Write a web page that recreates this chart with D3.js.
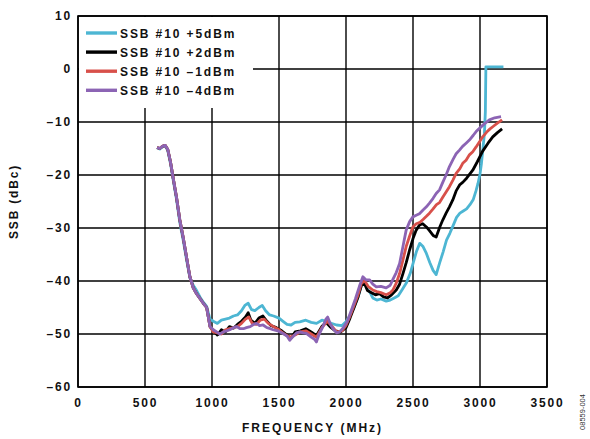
<!DOCTYPE html>
<html>
<head>
<meta charset="utf-8">
<script src="https://cdn.jsdelivr.net/npm/d3@7"></script>
<style>
  html, body { margin: 0; padding: 0; background: #fff; overflow: hidden; }
  svg { display: block; }
  text { font-family: "Liberation Sans", Arial, sans-serif; }
</style>
</head>
<body>
<svg width="590" height="439"></svg>
<script>
const svg = d3.select("svg");
const margin = {top: 16, right: 43, bottom: 52, left: 78};
const innerWidth = 590 - margin.left - margin.right;
const innerHeight = 439 - margin.top - margin.bottom;

// axis ticks
const xTicks = [0, 500, 1000, 1500, 2000, 2500, 3000, 3500];
const yTicks = [10, 0, -10, -20, -30, -40, -50, -60];

// shared steep roll-off below 1 GHz
const rolloff = [[590,-14.8],[610,-15.0],[630,-14.6],[650,-14.4],[670,-15.2],[690,-17.5],[710,-20.5],[735,-24.2],[760,-28.5],[785,-31.8],[810,-35.5],[835,-39.2],[860,-41.3],[885,-42.4],[910,-43.3],[935,-44.2],[960,-45.0],[985,-48.6]];

const ssbP5 = [[590,-14.9],[610,-15.1],[630,-14.7],[650,-14.5],[670,-15.4],[690,-17.8],[710,-20.9],[735,-24.6],[760,-29],[785,-32.3],[810,-36],[835,-39.4],[860,-40.8],[885,-41.8],[910,-43],[935,-44],[960,-44.8],[985,-47.2],[1010,-47.6],[1040,-48],[1070,-47.4],[1100,-47.2],[1130,-47],[1160,-46.6],[1190,-46.4],[1220,-45.6],[1245,-44.6],[1270,-44.2],[1295,-45.4],[1320,-45.6],[1350,-45],[1375,-44.6],[1400,-45.6],[1430,-46.4],[1460,-46.6],[1500,-47],[1530,-47.6],[1560,-48.2],[1590,-48.3],[1620,-47.8],[1655,-47.7],[1700,-47.4],[1740,-47.8],[1780,-48],[1820,-47.4],[1855,-47.6],[1890,-48],[1930,-48.3],[1970,-48.4],[2000,-47.7],[2030,-46.5],[2060,-45],[2090,-43],[2115,-40.8],[2140,-40.2],[2160,-41.5],[2180,-42.2],[2200,-43.2],[2230,-43.6],[2260,-43.4],[2300,-43.8],[2330,-43.6],[2360,-43.2],[2390,-42.8],[2420,-41.6],[2450,-40.4],[2480,-38.5],[2500,-36.7],[2525,-34.5],[2550,-32.9],[2575,-33.5],[2600,-34.8],[2625,-36.5],[2650,-38],[2673,-38.8],[2700,-36.5],[2725,-34.5],[2750,-32.3],[2775,-31],[2800,-29.5],[2825,-28],[2850,-27.2],[2875,-26.8],[2900,-26.4],[2925,-25.6],[2950,-24.6],[2970,-23],[2985,-21.6],[3000,-19.8],[3010,-18],[3020,-15.5],[3033,-12.2],[3040,-8],[3044,0.4],[3175,0.4]];

const ssbP2 = rolloff.concat([[1010,-49.4],[1040,-50.2],[1070,-49.2],[1100,-49.6],[1130,-48.6],[1160,-48.9],[1190,-48.2],[1220,-47.6],[1250,-46.8],[1270,-46],[1290,-47.4],[1320,-48],[1350,-47],[1380,-46.6],[1410,-47.6],[1440,-48.4],[1480,-48.8],[1520,-49.4],[1560,-50.2],[1590,-50.8],[1620,-49.6],[1660,-49.4],[1700,-49],[1740,-49.6],[1780,-50.3],[1820,-48.6],[1850,-47.8],[1880,-48.6],[1920,-49.4],[1960,-49.6],[2000,-48.8],[2030,-47],[2060,-45],[2090,-43],[2115,-40.8],[2140,-40.6],[2160,-41.8],[2190,-42.2],[2220,-42.6],[2250,-42.4],[2280,-43],[2310,-43.2],[2340,-42.6],[2375,-41.7],[2400,-40.6],[2425,-38.6],[2450,-36.5],[2474,-34.2],[2500,-32],[2524,-30.4],[2550,-29.4],[2573,-29.2],[2600,-29.8],[2623,-30.5],[2650,-31.4],[2673,-31.7],[2700,-29.8],[2722,-28.5],[2747,-27.2],[2772,-26],[2797,-24.7],[2822,-23],[2850,-21.8],[2871,-21.4],[2900,-20.6],[2946,-19.1],[2980,-17.5],[3020,-15.5],[3060,-14],[3095,-12.8],[3130,-12],[3165,-11.3]]);

const ssbM1 = rolloff.concat([[1010,-49.6],[1040,-49.8],[1070,-50],[1100,-49.2],[1130,-49],[1160,-48.8],[1190,-48.6],[1220,-48],[1250,-47.2],[1275,-46.8],[1300,-48],[1330,-48.2],[1360,-47.4],[1390,-47.2],[1420,-48],[1460,-48.6],[1500,-49.2],[1540,-50],[1580,-50.6],[1620,-50.2],[1660,-49.6],[1700,-49.4],[1740,-50],[1780,-50.6],[1820,-48.8],[1860,-47.6],[1890,-48.4],[1930,-49.6],[1970,-49.4],[2000,-48.4],[2030,-46.6],[2060,-44.6],[2090,-42.6],[2115,-40.4],[2140,-40],[2165,-41],[2200,-41.7],[2230,-42],[2260,-42.2],[2300,-42.6],[2330,-42.2],[2350,-41.7],[2375,-40.4],[2400,-38.6],[2425,-36],[2449,-33.5],[2475,-31.5],[2499,-29.8],[2524,-29.2],[2548,-29],[2575,-28.4],[2600,-27.8],[2623,-27.2],[2650,-26.4],[2675,-25.6],[2698,-25.2],[2722,-24.2],[2747,-23.2],[2772,-22.2],[2797,-21],[2822,-19.7],[2850,-18.8],[2871,-17.8],[2896,-17.2],[2921,-16.2],[2946,-15.6],[2971,-14.7],[3000,-13.6],[3020,-12.8],[3050,-11.9],[3075,-11.3],[3100,-10.8],[3130,-10.2],[3165,-9.6]]);

const ssbM4 = rolloff.concat([[1010,-49.2],[1035,-49.6],[1058,-50],[1085,-49.6],[1110,-49.4],[1133,-49.2],[1160,-48.8],[1183,-48.6],[1210,-49],[1235,-49],[1257,-48.8],[1285,-48.6],[1310,-48.2],[1332,-48],[1355,-48.4],[1381,-48.3],[1410,-48.8],[1435,-49],[1456,-49.2],[1490,-49.4],[1530,-49.9],[1560,-50.4],[1580,-51.2],[1600,-50.6],[1630,-49.8],[1655,-49.6],[1680,-49.8],[1704,-49.9],[1740,-50.6],[1765,-51],[1779,-51.5],[1800,-50],[1828,-48.6],[1850,-47.2],[1863,-46.8],[1885,-48.2],[1903,-49],[1930,-49.8],[1953,-49.6],[1980,-48.8],[2010,-47.6],[2040,-45.5],[2070,-43.4],[2100,-41],[2126,-39.2],[2150,-39.8],[2176,-39.8],[2200,-40.6],[2226,-41.1],[2260,-41],[2300,-41.3],[2330,-40.8],[2350,-39.7],[2375,-38.4],[2400,-36.7],[2425,-33.5],[2449,-30.4],[2475,-28.8],[2499,-27.9],[2524,-27.6],[2548,-27.3],[2575,-26.6],[2600,-26],[2623,-25.3],[2650,-24.4],[2673,-23.5],[2698,-22.8],[2722,-21.4],[2747,-20],[2772,-18.4],[2800,-17],[2822,-16],[2847,-15.3],[2870,-14.6],[2896,-14],[2921,-13.4],[2950,-12.5],[2971,-11.8],[2996,-11.2],[3030,-10.4],[3070,-9.6],[3110,-9.2],[3157,-9.0]]);

const seriesNames = ["SSB #10 +5dBm", "SSB #10 +2dBm", "SSB #10 \u20131dBm", "SSB #10 \u20134dBm"];
const seriesColors = ["#4db6d3", "#000000", "#d8504a", "#8c64b4"];
const seriesData = [ssbP5, ssbP2, ssbM1, ssbM4];

const fmt = d => d < 0 ? "\u2013" + Math.abs(d) : String(d);

const xScale = d3.scaleLinear().domain([0, 3500]).range([0, innerWidth]);
const yScale = d3.scaleLinear().domain([-60, 10]).range([innerHeight, 0]);

const g = svg.append("g").attr("transform", `translate(${margin.left},${margin.top})`);

// grid
g.append("g").selectAll("line").data(xTicks).join("line")
  .attr("x1", d => xScale(d)).attr("x2", d => xScale(d))
  .attr("y1", 0).attr("y2", innerHeight)
  .attr("stroke", "#000").attr("stroke-width", 1.4);
g.append("g").selectAll("line").data(yTicks).join("line")
  .attr("x1", 0).attr("x2", innerWidth)
  .attr("y1", d => yScale(d)).attr("y2", d => yScale(d))
  .attr("stroke", "#000").attr("stroke-width", 1.4);

// legend background covers the grid
g.append("rect")
  .attr("x", 1).attr("y", 1)
  .attr("width", 174).attr("height", 91)
  .attr("fill", "#fff");

// tick labels via d3 axes
const xAxis = d3.axisBottom(xScale).tickValues(xTicks).tickSize(0).tickPadding(11).tickFormat(fmt);
const yAxis = d3.axisLeft(yScale).tickValues(yTicks).tickSize(0).tickPadding(6).tickFormat(fmt);

const xg = g.append("g").attr("transform", `translate(0,${innerHeight})`).call(xAxis);
const yg = g.append("g").call(yAxis);
[xg, yg].forEach(a => {
  a.select(".domain").remove();
  a.selectAll("text")
    .attr("fill", "#111")
    .style("font-size", "12px")
    .style("font-weight", "bold")
    .style("letter-spacing", "1.8px")
    .style("font-family", "'Liberation Sans', Arial, sans-serif");
});

// lines
const line = d3.line().x(d => xScale(d[0])).y(d => yScale(d[1]));
seriesData.forEach((s, i) => {
  g.append("path")
    .datum(s)
    .attr("fill", "none")
    .attr("stroke", seriesColors[i])
    .attr("stroke-width", 2.8)
    .attr("stroke-linejoin", "round")
    .attr("d", line);
});

// frame
g.append("rect")
  .attr("width", innerWidth).attr("height", innerHeight)
  .attr("fill", "none").attr("stroke", "#000").attr("stroke-width", 1.6);

// legend
const legend = g.append("g").attr("transform", "translate(8,17)");
seriesNames.forEach((name, i) => {
  const row = legend.append("g").attr("transform", `translate(0,${i * 19.1})`);
  row.append("line")
    .attr("x1", 0).attr("x2", 31)
    .attr("stroke", seriesColors[i]).attr("stroke-width", 3.4);
  row.append("text")
    .attr("x", 34).attr("y", 4.5)
    .attr("fill", "#111")
    .style("font-size", "12px")
    .style("font-weight", "bold")
    .style("letter-spacing", "1.9px")
    .text(name);
});

// axis titles
svg.append("text")
  .attr("x", margin.left + xScale(1750)).attr("y", 432)
  .attr("text-anchor", "middle")
  .attr("fill", "#111")
  .style("font-size", "12px").style("font-weight", "bold")
  .style("letter-spacing", "2px")
  .text("FREQUENCY (MHz)");

svg.append("text")
  .attr("transform", `translate(18,${margin.top + yScale(-25)}) rotate(-90)`)
  .attr("text-anchor", "middle")
  .attr("fill", "#111")
  .style("font-size", "12px").style("font-weight", "bold")
  .style("letter-spacing", "1.8px")
  .text("SSB (dBc)");

svg.append("text")
  .attr("transform", "translate(585,412) rotate(-90)")
  .attr("text-anchor", "middle")
  .attr("fill", "#333")
  .style("font-size", "7.5px")
  .text("08559-004");
</script>
</body>
</html>
